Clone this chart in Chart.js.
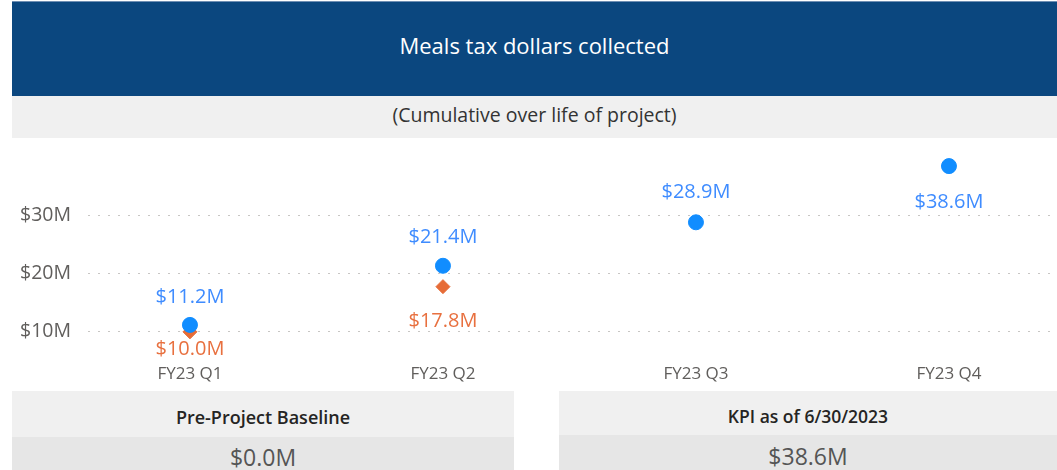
<!DOCTYPE html>
<html>
<head>
<meta charset="utf-8">
<script src="https://cdn.jsdelivr.net/npm/chart.js@4"></script>
<style>
  body { margin: 0; width: 1057px; height: 470px; background: #fff; font-family: "Open Sans", sans-serif; position: relative; overflow: hidden; }
  .header { position: absolute; left: 12px; top: 1px; width: 1045px; height: 85px; padding-bottom: 10px; background: #0B477F; border-top: 1px solid #6f8fb3; color: #fff; font-size: 22px; display: flex; align-items: center; justify-content: center; }
  .sub { position: absolute; left: 12px; top: 96px; width: 1045px; height: 36px; padding-bottom: 6px; background: #F0F0F0; color: #333; font-size: 19.5px; display: flex; align-items: center; justify-content: center; }
  .chartBox { position: absolute; left: 0; top: 138px; width: 1057px; height: 252px; }
  .card { position: absolute; top: 391px; height: 79px; }
  .card .lbl { background: #F0F0F0; color: #252423; font-weight: 600; display: flex; align-items: center; justify-content: center; box-sizing: border-box; padding-top: 6px; }
  .card .val { background: #E6E6E6; color: #555; font-size: 23px; display: flex; align-items: center; justify-content: center; box-sizing: border-box; padding-top: 6px; }
</style>
</head>
<body>
<div class="header">Meals tax dollars collected</div>
<div class="sub">(Cumulative over life of project)</div>
<div class="chartBox"><canvas id="chart"></canvas></div>
<div class="card" style="left:12px;width:502px;">
  <div class="lbl" style="height:46px;font-size:18px;">Pre-Project Baseline</div>
  <div class="val" style="height:33px;" id="baseVal"></div>
</div>
<div class="card" style="left:559px;width:498px;">
  <div class="lbl" style="height:44px;font-size:17.5px;">KPI as of 6/30/2023</div>
  <div class="val" style="height:35px;" id="kpiVal"></div>
</div>
<script>
// values in $ millions
const quarters = ["FY23 Q1", "FY23 Q2", "FY23 Q3", "FY23 Q4"];
const collected = [11.2, 21.4, 28.9, 38.6];
const target = [10.0, 17.8, null, null];
const yTicks = [10, 20, 30];
const baseline = 0.0;
const kpi = 38.6;

const fmt = v => "$" + v.toFixed(1) + "M";
document.getElementById("baseVal").textContent = fmt(baseline);
document.getElementById("kpiVal").textContent = fmt(kpi);

// where each data label sits relative to its point (px, + is down)
const labelOffsets = [
    [-28, -28, -30, 36],
    [17, 35, 0, 0]
];

const labelPlugin = {
    id: "pointLabels",
    afterDatasetsDraw(chart) {
        const ctx = chart.ctx;
        ctx.save();
        ctx.font = "20px 'Open Sans', sans-serif";
        ctx.textAlign = "center";
        ctx.textBaseline = "middle";
        chart.data.datasets.forEach((ds, di) => {
            const meta = chart.getDatasetMeta(di);
            meta.data.forEach((pt, i) => {
                const v = ds.data[i].y;
                if (v == null) return;
                ctx.fillStyle = ds.labelColor;
                ctx.fillText(fmt(v), pt.x, pt.y + labelOffsets[di][i]);
            });
        });
        ctx.restore();
    }
};

// fixed axis sizes, and no extra padding from the tick labels
const noPad = s => { s.paddingTop = 0; s.paddingBottom = 0; s.paddingLeft = 0; s.paddingRight = 0; };

const ctx = document.getElementById("chart").getContext("2d");

new Chart(ctx, {
    type: "scatter",
    data: {
        datasets: [{
            label: "Collected",
            data: collected.map((v, i) => ({ x: i, y: v })),
            backgroundColor: "#118DFF",
            borderColor: "#118DFF",
            pointStyle: "circle",
            pointRadius: 7.5,
            labelColor: "#3F8CFF"
        }, {
            label: "Target",
            data: target.map((v, i) => ({ x: i, y: v })),
            backgroundColor: "#E66C37",
            borderColor: "#E66C37",
            pointStyle: "rectRot",
            pointRadius: 7,
            labelColor: "#E8703F"
        }]
    },
    options: {
        responsive: true,
        maintainAspectRatio: false,
        animation: false,
        layout: { autoPadding: false, padding: { top: 2, right: 0, left: 0, bottom: 0 } },
        plugins: {
            legend: { display: false },
            tooltip: { enabled: false }
        },
        scales: {
            x: {
                type: "linear",
                min: -0.403,
                max: 3.427,
                grid: { display: false, drawTicks: false },
                border: { display: false },
                afterBuildTicks: s => { s.ticks = quarters.map((q, i) => ({ value: i })); },
                afterFit: s => { s.height = 28; noPad(s); },
                ticks: {
                    padding: 2,
                    color: "#605E5C",
                    font: { family: "'Open Sans', sans-serif", size: 17 },
                    callback: v => quarters[v]
                }
            },
            y: {
                min: 4.8,
                max: 43.1,
                grid: { color: "#C8C6C4", borderDash: [2, 8], drawTicks: false },
                border: { display: false, dash: [2, 8] },
                afterBuildTicks: s => { s.ticks = yTicks.map(v => ({ value: v })); },
                afterFit: s => { s.width = 88; noPad(s); },
                ticks: {
                    padding: 17,
                    color: "#605E5C",
                    font: { family: "'Open Sans', sans-serif", size: 19.5 },
                    callback: v => "$" + v + "M"
                }
            }
        }
    },
    plugins: [labelPlugin]
});
</script>
</body>
</html>
